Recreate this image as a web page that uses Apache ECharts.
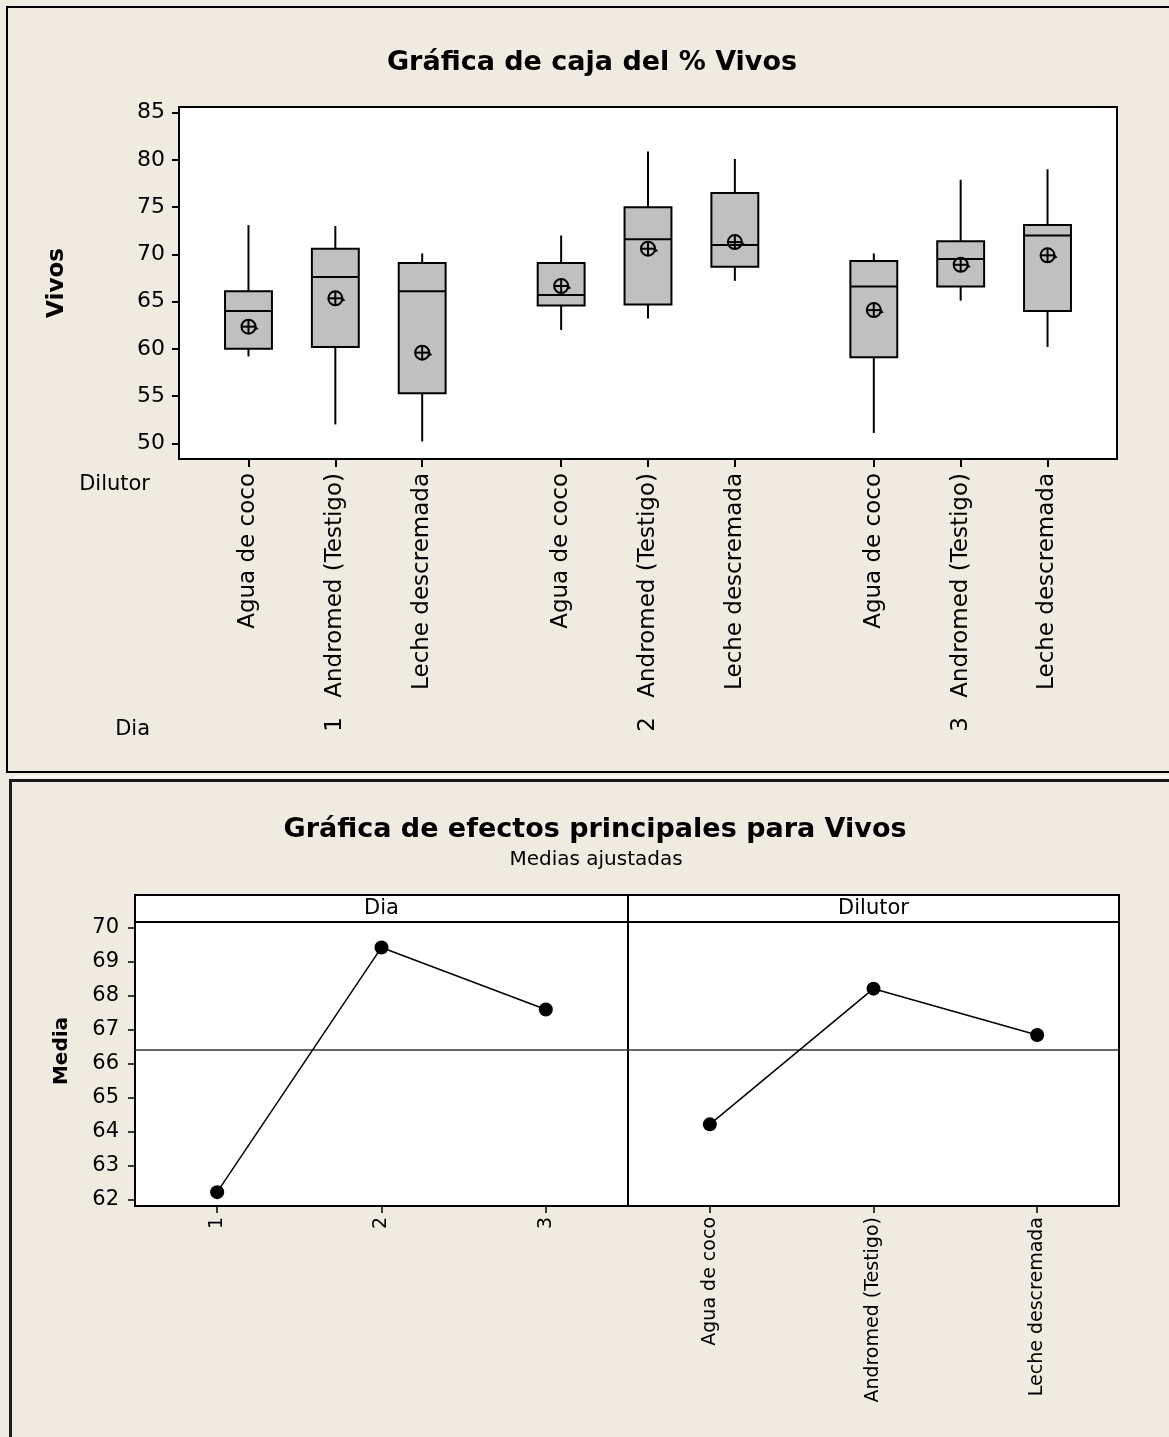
<!DOCTYPE html>
<html>
<head>
<meta charset="utf-8">
<script src="https://cdn.jsdelivr.net/npm/echarts@6/dist/echarts.min.js"></script>
<style>
html,body{margin:0;padding:0;background:#EFEBE1;}
#c{width:1169px;height:1437px;}
</style>
</head>
<body>
<div id="c"></div>
<script>
// ---------- data ----------
const dilutores = ['Agua de coco', 'Andromed (Testigo)', 'Leche descremada'];
const dias = ['1', '2', '3'];
// box statistics, order: Dia1 (Agua, Andromed, Leche), Dia2 (...), Dia3 (...)
const boxMin    = [59.2, 52.0, 50.2, 62.0, 63.2, 67.2, 51.1, 65.1, 60.2];
const boxQ1     = [60.0, 60.2, 55.3, 64.6, 64.7, 68.7, 59.1, 66.6, 64.0];
const boxMedian = [64.0, 67.6, 66.1, 65.7, 71.6, 71.0, 66.6, 69.5, 72.0];
const boxQ3     = [66.1, 70.6, 69.1, 69.1, 75.0, 76.5, 69.3, 71.4, 73.1];
const boxMax    = [73.1, 73.0, 70.1, 72.0, 80.9, 80.1, 70.1, 77.9, 79.0];
const boxMean   = [62.35, 65.35, 59.6, 66.65, 70.6, 71.3, 64.1, 68.9, 69.9];
const yTicksBox = [50, 55, 60, 65, 70, 75, 80, 85];

const efectoDia     = [62.23, 69.41, 67.59];
const efectoDilutor = [64.22, 68.20, 66.84];
const mediaGeneral  = 66.41;
const yTicksEfectos = [62, 63, 64, 65, 66, 67, 68, 69, 70];

// ---------- layout helpers ----------
const GROUP_STEP = 3.6;     // spacing between Dia groups (axis units)
const BOX_W = 0.54;         // box width in axis units
const pos = [];             // x positions of the 9 boxes
const posLabel = {};
const diaPos = [];
const diaLabel = {};
for (let g = 0; g < dias.length; g++) {
  for (let i = 0; i < dilutores.length; i++) {
    const p = Math.round((g * GROUP_STEP + i) * 100) / 100;
    pos.push(p);
    posLabel[Math.round(p * 100)] = dilutores[i];
    if (i === 1) { diaPos.push(p); diaLabel[Math.round(p * 100)] = dias[g]; }
  }
}
const boxData = pos.map((p, k) => [p, boxMin[k], boxQ1[k], boxMedian[k], boxQ3[k], boxMax[k]]);
const meanData = pos.map((p, k) => [p, boxMean[k]]);

const FONT = "'DejaVu Sans', Verdana, sans-serif";
const BG = '#EFEBE1';

const chart = echarts.init(document.getElementById('c'), null, {renderer: 'canvas', width: 1169, height: 1437});

const option = {
  backgroundColor: BG,
  animation: false,
  title: [
    {text: 'Gráfica de caja del % Vivos', left: 587, top: 44, textAlign: 'center',
     textStyle: {fontFamily: FONT, fontWeight: 'bold', fontSize: 27, color: '#000'}},
    {text: 'Gráfica de efectos principales para Vivos', left: 590, top: 811, textAlign: 'center',
     textStyle: {fontFamily: FONT, fontWeight: 'bold', fontSize: 27, color: '#000'}},
    {text: 'Medias ajustadas', left: 591, top: 845, textAlign: 'center',
     textStyle: {fontFamily: FONT, fontWeight: 'normal', fontSize: 20, color: '#000'}}
  ],
  grid: [
    {left: 179, top: 107, width: 938, height: 352, show: true, backgroundColor: '#fff', borderColor: '#000', borderWidth: 2},
    {left: 135, top: 922, width: 493, height: 284, show: true, backgroundColor: '#fff', borderColor: '#000', borderWidth: 2},
    {left: 628, top: 922, width: 491, height: 284, show: true, backgroundColor: '#fff', borderColor: '#000', borderWidth: 2}
  ],
  xAxis: [
    {
      type: 'value', gridIndex: 0, min: -0.8, max: 10.0, position: 'bottom',
      axisLine: {show: true, onZero: false, lineStyle: {color: '#000', width: 2}},
      axisTick: {show: true, customValues: pos, length: 8, lineStyle: {color: '#000', width: 2}},
      axisLabel: {show: true, customValues: pos, rotate: 90, margin: 14, color: '#000',
        fontFamily: FONT, fontSize: 23,
        formatter: v => posLabel[Math.round(v * 100)] || ''},
      splitLine: {show: false}
    },
    {
      type: 'value', gridIndex: 0, min: -0.8, max: 10.0, position: 'bottom', offset: 0,
      axisLine: {show: false, onZero: false}, axisTick: {show: false},
      axisLabel: {show: true, customValues: diaPos, rotate: 90, margin: 258, color: '#000',
        fontFamily: FONT, fontSize: 23,
        formatter: v => diaLabel[Math.round(v * 100)] || ''},
      splitLine: {show: false}
    },
    {
      type: 'category', gridIndex: 1, data: dias, boundaryGap: true,
      axisLine: {show: true, onZero: false, lineStyle: {color: '#000', width: 2}},
      axisTick: {show: true, alignWithLabel: true, length: 7, lineStyle: {color: '#000', width: 1.5}},
      axisLabel: {rotate: 90, margin: 11, color: '#000', fontFamily: FONT, fontSize: 19, interval: 0},
      splitLine: {show: false}
    },
    {
      type: 'category', gridIndex: 2, data: dilutores, boundaryGap: true,
      axisLine: {show: true, onZero: false, lineStyle: {color: '#000', width: 2}},
      axisTick: {show: true, alignWithLabel: true, length: 7, lineStyle: {color: '#000', width: 1.5}},
      axisLabel: {rotate: 90, margin: 11, color: '#000', fontFamily: FONT, fontSize: 19, interval: 0},
      splitLine: {show: false}
    }
  ],
  yAxis: [
    {
      type: 'value', gridIndex: 0, min: 48.34, max: 85.6, position: 'left',
      axisLine: {show: true, onZero: false, lineStyle: {color: '#000', width: 2}},
      axisTick: {show: true, customValues: yTicksBox, length: 7, lineStyle: {color: '#000', width: 2}},
      axisLabel: {show: true, customValues: yTicksBox, margin: 14, color: '#000', fontFamily: FONT, fontSize: 22},
      splitLine: {show: false}
    },
    {
      type: 'value', gridIndex: 1, min: 61.824, max: 70.156, position: 'left',
      axisLine: {show: true, onZero: false, lineStyle: {color: '#000', width: 2}},
      axisTick: {show: true, customValues: yTicksEfectos, length: 7, lineStyle: {color: '#000', width: 1.5}},
      axisLabel: {show: true, customValues: yTicksEfectos, margin: 16, color: '#000', fontFamily: FONT, fontSize: 21},
      splitLine: {show: false}
    },
    {
      type: 'value', gridIndex: 2, min: 61.824, max: 70.156, position: 'left',
      axisLine: {show: true, onZero: false, lineStyle: {color: '#000', width: 2}},
      axisTick: {show: false}, axisLabel: {show: false}, splitLine: {show: false}
    }
  ],
  series: [
    {
      type: 'custom', name: 'cajas', xAxisIndex: 0, yAxisIndex: 0, data: boxData,
      encode: {x: 0, y: [1, 2, 3, 4, 5]}, clip: false,
      renderItem: function (params, api) {
        const x = api.value(0);
        const pMin = api.coord([x, api.value(1)]);
        const pQ1 = api.coord([x, api.value(2)]);
        const pMed = api.coord([x, api.value(3)]);
        const pQ3 = api.coord([x, api.value(4)]);
        const pMax = api.coord([x, api.value(5)]);
        const w = api.size([BOX_W, 0])[0];
        const cx = pQ1[0];
        const st = {stroke: '#000', lineWidth: 2};
        return {type: 'group', children: [
          {type: 'line', shape: {x1: cx, y1: pMax[1], x2: cx, y2: pQ3[1]}, style: st},
          {type: 'line', shape: {x1: cx, y1: pQ1[1], x2: cx, y2: pMin[1]}, style: st},
          {type: 'rect', shape: {x: cx - w / 2, y: pQ3[1], width: w, height: pQ1[1] - pQ3[1]},
           style: {fill: '#C0C0C0', stroke: '#000', lineWidth: 2}},
          {type: 'line', shape: {x1: cx - w / 2, y1: pMed[1], x2: cx + w / 2, y2: pMed[1]}, style: st}
        ]};
      }
    },
    {
      type: 'custom', name: 'media', xAxisIndex: 0, yAxisIndex: 0, data: meanData,
      encode: {x: 0, y: 1}, z: 5,
      renderItem: function (params, api) {
        const p = api.coord([api.value(0), api.value(1)]);
        const r = 7;
        const st = {stroke: '#000', lineWidth: 2, fill: null};
        return {type: 'group', children: [
          {type: 'circle', shape: {cx: p[0], cy: p[1], r: r}, style: {stroke: '#000', lineWidth: 2, fill: 'none'}},
          {type: 'line', shape: {x1: p[0] - r, y1: p[1], x2: p[0] + r, y2: p[1]}, style: st},
          {type: 'line', shape: {x1: p[0], y1: p[1] - r, x2: p[0], y2: p[1] + r}, style: st},
          {type: 'polyline', shape: {points: [[p[0] + r - 1, p[1] - 1], [p[0] + r + 2, p[1] + 2], [p[0] + r - 1, p[1] + 3]]},
           style: {stroke: '#000', lineWidth: 1.2, fill: null}}
        ]};
      }
    },
    {
      type: 'line', name: 'Dia', xAxisIndex: 2, yAxisIndex: 1, data: efectoDia,
      symbol: 'circle', symbolSize: 14, itemStyle: {color: '#000'},
      lineStyle: {color: '#000', width: 1.5}, z: 5,
      markLine: {silent: true, symbol: ['none', 'none'], label: {show: false},
        lineStyle: {color: '#333', width: 1.5, type: 'solid'}, data: [{yAxis: mediaGeneral}]}
    },
    {
      type: 'line', name: 'Dilutor', xAxisIndex: 3, yAxisIndex: 2, data: efectoDilutor,
      symbol: 'circle', symbolSize: 14, itemStyle: {color: '#000'},
      lineStyle: {color: '#000', width: 1.5}, z: 5,
      markLine: {silent: true, symbol: ['none', 'none'], label: {show: false},
        lineStyle: {color: '#333', width: 1.5, type: 'solid'}, data: [{yAxis: mediaGeneral}]}
    }
  ],
  graphic: [
    // panel frames
    {type: 'rect', shape: {x: 7, y: 7, width: 1175, height: 765}, style: {fill: null, stroke: '#000', lineWidth: 2}, z: 100},
    {type: 'line', shape: {x1: 14, y1: 776.5, x2: 1169, y2: 776.5}, style: {stroke: '#fff', lineWidth: 2}, z: 100},
    {type: 'rect', shape: {x: 10.5, y: 780.5, width: 1175, height: 700}, style: {fill: null, stroke: '#1a1a1a', lineWidth: 3}, z: 100},
    // axis titles of the box plot
    {type: 'text', x: 57, y: 283, rotation: Math.PI / 2, z: 100,
     style: {text: 'Vivos', fill: '#000', font: 'bold 23px ' + FONT, align: 'center', verticalAlign: 'middle', textAlign: 'center', textVerticalAlign: 'middle'}},
    {type: 'text', x: 150, y: 485, z: 100,
     style: {text: 'Dilutor', fill: '#000', font: '21px ' + FONT, align: 'right', verticalAlign: 'middle', textAlign: 'right', textVerticalAlign: 'middle'}},
    {type: 'text', x: 150, y: 730, z: 100,
     style: {text: 'Dia', fill: '#000', font: '21px ' + FONT, align: 'right', verticalAlign: 'middle', textAlign: 'right', textVerticalAlign: 'middle'}},
    // main effects: y title and panel strips
    {type: 'text', x: 62, y: 1051, rotation: Math.PI / 2, z: 100,
     style: {text: 'Media', fill: '#000', font: 'bold 20px ' + FONT, align: 'center', verticalAlign: 'middle', textAlign: 'center', textVerticalAlign: 'middle'}},
    {type: 'rect', shape: {x: 135, y: 895, width: 493, height: 27}, style: {fill: '#fff', stroke: '#000', lineWidth: 2}, z: 100},
    {type: 'rect', shape: {x: 628, y: 895, width: 491, height: 27}, style: {fill: '#fff', stroke: '#000', lineWidth: 2}, z: 100},
    {type: 'text', x: 381.5, y: 909, z: 101,
     style: {text: 'Dia', fill: '#000', font: '21px ' + FONT, align: 'center', verticalAlign: 'middle', textAlign: 'center', textVerticalAlign: 'middle'}},
    {type: 'text', x: 873.5, y: 909, z: 101,
     style: {text: 'Dilutor', fill: '#000', font: '21px ' + FONT, align: 'center', verticalAlign: 'middle', textAlign: 'center', textVerticalAlign: 'middle'}}
  ]
};
chart.setOption(option);
</script>
</body>
</html>
